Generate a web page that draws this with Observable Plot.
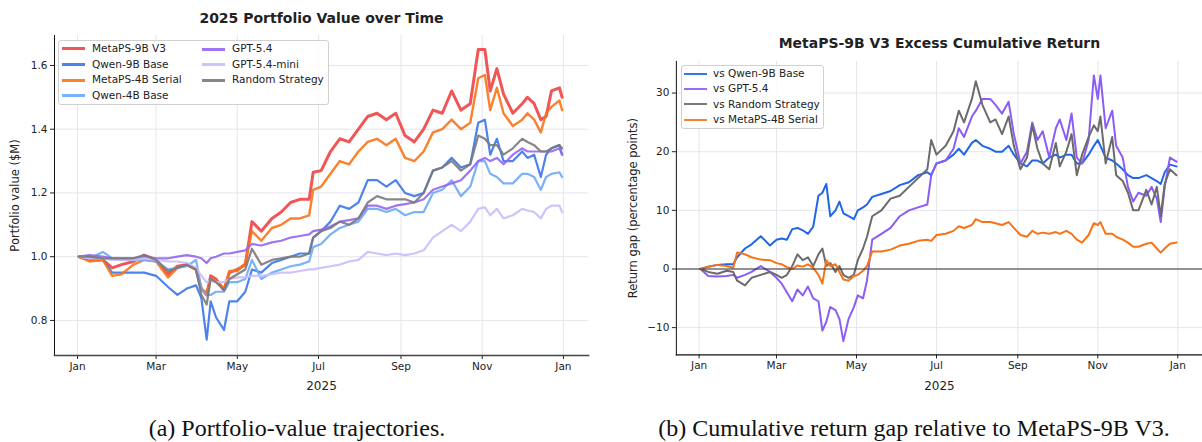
<!DOCTYPE html>
<html>
<head>
<meta charset="utf-8">
<script src="https://cdn.jsdelivr.net/npm/d3@7"></script>
<script src="https://cdn.jsdelivr.net/npm/@observablehq/plot@0.6"></script>
<style>
  html, body { margin: 0; padding: 0; background: #fff; }
  body { width: 1202px; height: 442px; position: relative; overflow: hidden; font-family: "DejaVu Sans", sans-serif; }
  .panel { position: absolute; top: 0; }
  .legend { position: absolute; border: 1px solid #d0d0d0; border-radius: 3px; background: rgba(255,255,255,0.85); box-sizing: border-box; }
  .item { position: absolute; font-size: 10.5px; color: #222; white-space: nowrap; line-height: 13px; }
  .sw { position: absolute; height: 0; }
  .caption { position: absolute; top: 414px; font-family: "Liberation Serif", "Times New Roman", serif; font-size: 24px; line-height: 28px; color: #111; white-space: nowrap; transform: translateX(-50%); }
</style>
</head>
<body>
<div id="left" class="panel" style="left:0px"></div>
<div id="right" class="panel" style="left:600px"></div>
<div class="caption" style="left:297px">(a) Portfolio-value trajectories.</div>
<div class="caption" style="left:914px">(b) Cumulative return gap relative to MetaPS-9B V3.</div>
<script>
// ---------------- Left panel data (portfolio value, $M) ----------------
const leftDates = ["01-02","01-10","01-20","01-27","02-03","02-12","02-20","03-01","03-10","03-17",
  "03-24","03-31","04-04","04-08","04-11","04-15","04-21","04-25","05-01","05-07",
  "05-12","05-19","05-27","06-03","06-10","06-17","06-24","06-27","07-03","07-10",
  "07-17","07-24","07-31","08-07","08-14","08-21","08-28","09-04","09-11","09-18",
  "09-25","10-02","10-09","10-16","10-23","10-29","11-03","11-07","11-12","11-17",
  "11-24","12-01","12-05","12-10","12-15","12-19","12-23","12-29","12-31"];

const metaps9bV3 = [1.000,0.990,0.990,0.965,0.975,0.985,1.005,0.990,0.945,0.970,
  0.975,0.960,0.900,0.880,0.940,0.930,0.895,0.950,0.960,0.975,
  1.110,1.080,1.120,1.140,1.170,1.180,1.180,1.265,1.270,1.330,
  1.370,1.360,1.400,1.440,1.450,1.430,1.450,1.380,1.360,1.400,
  1.460,1.450,1.520,1.460,1.480,1.650,1.650,1.520,1.590,1.510,
  1.450,1.480,1.500,1.480,1.430,1.440,1.520,1.530,1.500];
const qwen9bBase = [1.000,1.000,0.990,0.950,0.950,0.950,0.950,0.940,0.905,0.880,
  0.900,0.910,0.870,0.740,0.860,0.810,0.770,0.860,0.860,0.890,
  0.960,0.950,0.980,0.990,1.000,1.010,1.010,1.060,1.080,1.110,
  1.160,1.150,1.170,1.240,1.240,1.220,1.240,1.200,1.190,1.200,
  1.270,1.280,1.310,1.280,1.290,1.420,1.430,1.320,1.370,1.300,
  1.300,1.330,1.310,1.320,1.250,1.320,1.340,1.350,1.320];
const metaps4bSerial = [1.000,0.985,0.990,0.940,0.945,0.975,0.990,0.985,0.935,0.965,
  0.975,0.960,0.895,0.890,0.930,0.925,0.900,0.955,0.955,0.980,
  1.080,1.050,1.090,1.100,1.120,1.120,1.130,1.210,1.220,1.260,
  1.300,1.290,1.330,1.360,1.370,1.350,1.370,1.310,1.300,1.330,
  1.390,1.400,1.430,1.400,1.420,1.560,1.570,1.460,1.530,1.450,
  1.410,1.430,1.450,1.430,1.390,1.450,1.470,1.490,1.460];
const qwen4bBase = [1.000,0.995,1.015,0.995,0.990,0.990,0.990,0.985,0.960,0.965,
  0.970,0.990,0.900,0.880,0.880,0.890,0.890,0.920,0.920,0.930,
  0.990,0.930,0.950,0.960,0.970,0.975,0.985,1.030,1.040,1.070,
  1.090,1.100,1.110,1.150,1.150,1.140,1.150,1.130,1.140,1.140,
  1.200,1.210,1.240,1.190,1.220,1.300,1.300,1.260,1.250,1.230,
  1.230,1.260,1.260,1.250,1.210,1.250,1.260,1.265,1.250];
const gpt54 = [1.000,1.005,1.000,0.995,0.995,0.995,1.000,0.995,0.995,1.000,
  1.005,1.000,0.995,0.980,0.995,1.000,1.010,1.010,1.015,1.020,
  1.040,1.035,1.045,1.050,1.060,1.065,1.070,1.080,1.085,1.095,
  1.110,1.115,1.120,1.160,1.160,1.150,1.160,1.165,1.170,1.180,
  1.210,1.220,1.230,1.240,1.270,1.300,1.310,1.300,1.310,1.290,
  1.320,1.340,1.330,1.330,1.330,1.330,1.330,1.340,1.320];
const gpt54mini = [1.000,0.995,0.995,0.990,0.990,0.990,0.995,0.990,0.985,0.985,
  0.980,0.965,0.940,0.920,0.925,0.920,0.920,0.930,0.935,0.935,
  0.940,0.940,0.945,0.950,0.950,0.955,0.960,0.960,0.965,0.970,
  0.975,0.985,0.990,1.015,1.010,1.005,1.010,1.005,1.010,1.020,
  1.060,1.080,1.100,1.080,1.110,1.150,1.155,1.130,1.150,1.120,
  1.130,1.150,1.145,1.140,1.120,1.150,1.160,1.160,1.140];
const randomStrategy = [1.000,1.000,0.995,0.995,0.995,0.995,1.005,0.990,0.955,0.965,
  0.975,0.960,0.880,0.850,0.930,0.920,0.895,0.930,0.945,0.960,
  1.025,0.975,0.990,0.995,1.000,1.000,1.010,1.060,1.080,1.090,
  1.110,1.100,1.120,1.170,1.190,1.180,1.180,1.180,1.170,1.200,
  1.270,1.280,1.300,1.270,1.290,1.380,1.370,1.350,1.350,1.320,
  1.340,1.370,1.360,1.350,1.330,1.330,1.340,1.350,1.340];

const leftNames = ["MetaPS-9B V3","Qwen-9B Base","MetaPS-4B Serial","Qwen-4B Base","GPT-5.4","GPT-5.4-mini","Random Strategy"];
const leftValues = [metaps9bV3, qwen9bBase, metaps4bSerial, qwen4bBase, gpt54, gpt54mini, randomStrategy];
const leftColors = ["#ef4444","#3b76ea","#f97316","#6aaaf8","#9466f4","#cbbdfc","#7a7a7a"];
const leftWidths = [3.0, 2.2, 2.4, 2.2, 2.2, 2.2, 2.2];
const leftYTicks = [0.8, 1.0, 1.2, 1.4, 1.6];

// ---------------- Right panel data (percentage points) ----------------
const rightDates = ["01-02","01-08","01-15","01-22","01-27","01-30","02-05","02-10","02-17","02-24",
  "03-01","03-05","03-09","03-13","03-17","03-21","03-25","03-29","04-02","04-05",
  "04-08","04-11","04-15","04-18","04-21","04-25","04-29","05-02","05-06","05-09",
  "05-13","05-20","05-27","06-03","06-10","06-17","06-24","06-27","07-01","07-08",
  "07-14","07-18","07-22","07-28","07-31","08-05","08-11","08-15","08-20","08-25",
  "08-29","09-03","09-08","09-12","09-16","09-20","09-25","09-30","10-03","10-08",
  "10-12","10-16","10-20","10-25","10-29","11-01","11-03","11-07","11-12","11-15",
  "11-20","11-24","11-28","12-02","12-08","12-12","12-16","12-19","12-22","12-26",
  "12-31"];

const gapQwen9b = [0,0.4,0.7,0.8,0.8,2.0,3.5,4.2,5.6,4.0,
  5.0,5.2,5.0,6.8,7.0,6.6,6.0,7.2,12.5,13.0,
  14.5,9.0,10.0,11.5,9.5,9.0,8.5,10.0,10.5,11.0,
  12.3,12.8,13.3,14.3,14.8,16.0,16.5,16.0,18.0,18.5,
  19.5,20.5,19.5,21.5,22.0,21.0,20.5,20.0,20.0,21.0,
  19.5,18.0,17.5,18.5,18.5,18.0,19.0,19.5,19.0,19.5,
  19.5,18.0,18.0,19.5,21.0,22.0,21.0,19.0,18.5,18.0,
  17.0,16.0,15.5,15.5,16.0,15.5,15.0,14.5,16.5,17.8,
  17.5];
const gapGpt54 = [0,-1.2,-1.3,-1.2,-1.0,-1.5,-1.0,-0.5,0.5,-0.5,
  -1.5,-2.5,-4.0,-5.5,-3.5,-4.5,-3.0,-5.0,-5.5,-10.5,
  -9.0,-6.5,-7.0,-8.5,-12.3,-8.5,-6.5,-4.5,-5.0,-2.0,
  5.0,6.0,7.0,9.0,10.0,10.5,11.0,16.0,18.0,18.5,
  20.5,24.0,22.5,26.0,27.0,29.0,29.0,28.0,26.5,28.5,
  23.0,18.0,20.0,25.0,22.0,23.5,19.0,24.0,25.5,22.0,
  26.5,19.0,18.0,22.0,33.0,29.0,33.0,24.0,27.0,21.0,
  19.0,14.0,11.5,13.0,12.5,14.0,12.0,8.0,14.0,19.0,
  18.3];
const gapRandom = [0,-0.5,-0.8,-0.3,-0.5,-2.0,-2.8,-1.5,-1.0,-0.5,
  -1.0,-1.5,-1.0,0.5,2.5,1.5,2.0,0.5,2.5,3.5,
  0.5,1.0,-0.5,0.5,-1.0,-1.5,-1.0,1.5,3.5,5.5,
  9.0,10.0,12.0,12.5,14.0,15.5,17.0,22.0,19.5,21.0,
  23.5,27.0,25.0,29.0,32.0,28.0,25.0,25.5,23.0,26.0,
  21.0,17.0,19.0,24.5,20.5,18.0,17.0,21.5,17.5,20.0,
  23.0,16.0,19.5,22.5,24.5,23.5,26.0,18.0,22.5,16.0,
  15.0,13.0,10.0,10.0,13.5,11.0,14.0,9.0,14.5,17.0,
  16.0];
const gapMetaps4b = [0,0.4,0.7,0.5,0.2,2.8,2.5,2.0,1.6,1.5,
  1.0,0.8,0.3,0.0,0.6,0.4,0.8,0.2,-1.0,-2.5,
  1.5,0.5,0.8,-0.5,-1.8,-2.0,-1.2,-1.0,-0.3,0.5,
  3.0,3.0,3.3,4.0,4.3,4.8,5.0,4.8,5.8,6.0,
  6.5,7.3,7.0,7.5,8.5,8.0,8.0,7.8,7.5,8.0,
  7.0,5.8,5.5,6.5,6.0,6.2,6.0,6.3,6.0,6.5,
  6.0,5.0,4.5,5.8,7.8,7.5,8.0,6.0,6.0,5.5,
  5.0,4.5,3.8,3.8,4.3,4.5,3.5,2.8,3.5,4.3,
  4.5];

const rightNames = ["vs Qwen-9B Base","vs GPT-5.4","vs Random Strategy","vs MetaPS-4B Serial"];
const rightValues = [gapQwen9b, gapGpt54, gapRandom, gapMetaps4b];
const rightColors = ["#1f66e8","#8b5cf6","#6b6b6b","#f97316"];
const rightYTicks = [-10, 0, 10, 20, 30];

const monthTicks = ["2025-01-01","2025-03-01","2025-05-01","2025-07-01","2025-09-01","2025-11-01","2026-01-01"];

// ---------------- helpers ----------------
const parseDay = d => new Date(`2025-${d}T00:00:00Z`);
const xTicks = monthTicks.map(d => new Date(`${d}T00:00:00Z`));
const xDomain = [new Date(Date.UTC(2024, 11, 14, 16)), new Date(Date.UTC(2026, 0, 19, 20))];
const gridColor = "#e5e5ec";
const minus = d => d < 0 ? "\u2212" + Math.abs(d) : String(d);

function rows(dates, vals) { return dates.map((d, i) => ({date: parseDay(d), value: vals[i]})); }

const leftLines = leftValues.map((vals, i) =>
  Plot.line(rows(leftDates, vals), {x: "date", y: "value", stroke: leftColors[i], strokeWidth: leftWidths[i], strokeOpacity: 0.9}));

const leftPlot = Plot.plot({
  width: 600, height: 395,
  marginLeft: 54, marginRight: 12, marginTop: 35, marginBottom: 40,
  style: {fontFamily: "DejaVu Sans", fontSize: "10.5px", color: "#222", background: "transparent", overflow: "visible"},
  x: {type: "utc", domain: xDomain},
  y: {domain: [0.690, 1.694]},
  marks: [
    Plot.gridX(xTicks, {stroke: gridColor, strokeOpacity: 1}),
    Plot.gridY(leftYTicks, {stroke: gridColor, strokeOpacity: 1}),
    ...leftLines,
    Plot.axisX(xTicks, {tickFormat: d3.utcFormat("%b"), tickSize: 4, tickPadding: 3, label: null, fontSize: 10.5}),
    Plot.axisY(leftYTicks, {tickFormat: d3.format(".1f"), tickSize: 4, tickPadding: 3, label: null, fontSize: 10.5}),
    Plot.frame({anchor: "left", stroke: "#111", strokeWidth: 1}),
    Plot.frame({anchor: "bottom", stroke: "#444", strokeWidth: 1.6}),
    Plot.text(["2025"], {frameAnchor: "bottom", dy: 31, lineAnchor: "middle", fontSize: 12}),
    Plot.text(["Portfolio value ($M)"], {frameAnchor: "left", dx: -39, rotate: -90, textAnchor: "middle", lineAnchor: "middle", fontSize: 11.5}),
    Plot.text(["2025 Portfolio Value over Time"], {frameAnchor: "top", dy: -17, lineAnchor: "middle", fontWeight: "bold", fontSize: 14})
  ]
});
document.getElementById("left").appendChild(leftPlot);

const rightLines = rightValues.map((vals, i) =>
  Plot.line(rows(rightDates, vals), {x: "date", y: "value", stroke: rightColors[i], strokeWidth: 2.0}));

const rightPlot = Plot.plot({
  width: 603, height: 395,
  marginLeft: 76, marginRight: 0, marginTop: 61, marginBottom: 40,
  style: {fontFamily: "DejaVu Sans", fontSize: "10.5px", color: "#222", background: "transparent", overflow: "visible"},
  x: {type: "utc", domain: xDomain},
  y: {domain: [-14.65, 35.4]},
  marks: [
    Plot.gridX(xTicks, {stroke: gridColor, strokeOpacity: 1}),
    Plot.gridY(rightYTicks, {stroke: gridColor, strokeOpacity: 1}),
    ...rightLines,
    Plot.ruleY([0], {stroke: "#333", strokeWidth: 1.2}),
    Plot.axisX(xTicks, {tickFormat: d3.utcFormat("%b"), tickSize: 4, tickPadding: 3, label: null, fontSize: 10.5}),
    Plot.axisY(rightYTicks, {tickFormat: minus, tickSize: 4, tickPadding: 3, label: null, fontSize: 10.5}),
    Plot.frame({anchor: "left", stroke: "#111", strokeWidth: 1}),
    Plot.frame({anchor: "bottom", stroke: "#111", strokeWidth: 1.2}),
    Plot.text(["2025"], {frameAnchor: "bottom", dy: 31, lineAnchor: "middle", fontSize: 12}),
    Plot.text(["Return gap (percentage points)"], {frameAnchor: "left", dx: -43, rotate: -90, textAnchor: "middle", lineAnchor: "middle", fontSize: 11.5}),
    Plot.text(["MetaPS-9B V3 Excess Cumulative Return"], {frameAnchor: "top", dy: -18, lineAnchor: "middle", fontWeight: "bold", fontSize: 14})
  ]
});
document.getElementById("right").appendChild(rightPlot);

// ---------------- legends (HTML) ----------------
function legend(box, items) {
  const el = document.createElement("div");
  el.className = "legend";
  Object.assign(el.style, {left: box.x + "px", top: box.y + "px", width: box.w + "px", height: box.h + "px"});
  document.body.appendChild(el);
  items.forEach(it => {
    const sw = document.createElement("div");
    sw.className = "sw";
    Object.assign(sw.style, {left: it.sx + "px", top: (it.cy - it.lw / 2) + "px", width: "23px", borderTop: `${it.lw}px solid ${it.color}`, opacity: 0.9});
    document.body.appendChild(sw);
    const t = document.createElement("div");
    t.className = "item";
    t.textContent = it.name;
    Object.assign(t.style, {left: it.tx + "px", top: (it.cy - 7) + "px"});
    document.body.appendChild(t);
  });
}
const leftRows = [49, 64.5, 80, 95.5];
legend({x: 58, y: 40, w: 271, h: 65}, leftNames.map((n, i) => {
  const col = i < 4 ? 0 : 1, row = i < 4 ? i : i - 4;
  return {name: n, color: leftColors[i], lw: i === 0 ? 3.5 : 3, sx: col ? 202 : 62, tx: col ? 232 : 92, cy: leftRows[row]};
}));
const rightRows = [74, 89, 104.5, 120];
legend({x: 681, y: 65, w: 143, h: 64}, rightNames.map((n, i) => ({name: n, color: rightColors[i], lw: 2.6, sx: 684, tx: 713, cy: rightRows[i]})));
</script>
</body>
</html>
